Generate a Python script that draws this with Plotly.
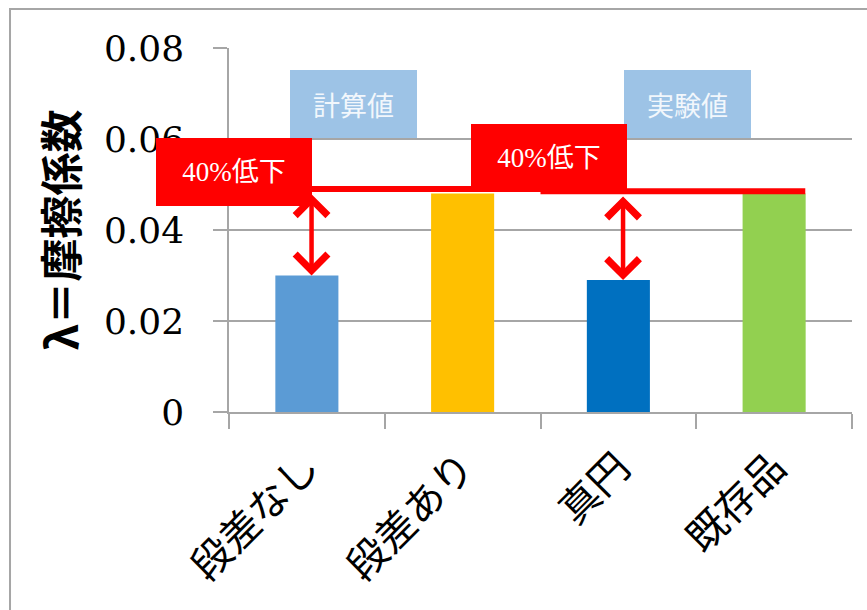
import plotly.graph_objects as go

# 摩擦係数の比較（計算値 / 実験値）
categories = ["段差なし", "段差あり", "真円", "既存品"]
friction = [0.030, 0.048, 0.029, 0.048]
bar_colors = ["#5B9BD5", "#FFC000", "#0070C0", "#92D050"]

# 基準線（段差あり・既存品のレベル）と低下を示す矢印
ref_levels = [0.049, 0.0485]
ref_spans = [(0.03, 1.50), (1.50, 3.20)]
arrow_x = [0.03, 2.03]
arrow_to = [0, 2]        # 低下した棒
drop_label = "40%低下"

group_labels = ["計算値", "実験値"]

y_ticks = [0, 0.02, 0.04, 0.06, 0.08]
y_ticktext = ["0", "0.02", "0.04", "0.06", "0.08"]

GRAY = "#A6A6A6"
RED = "#FF0000"

fig = go.Figure(
    go.Bar(
        x=categories,
        y=friction,
        marker=dict(color=bar_colors, line=dict(width=0)),
        hoverinfo="x+y",
    )
)

shapes = []
# 外枠
shapes.append(dict(type="rect", xref="paper", yref="paper",
                   x0=-0.3515, x1=1.05, y0=-0.7, y1=1.107,
                   line=dict(color=GRAY, width=2), fillcolor="rgba(0,0,0,0)",
                   layer="below"))
# 基準線
for lvl, (x0, x1) in zip(ref_levels, ref_spans):
    shapes.append(dict(type="line", xref="x", yref="y", x0=x0, x1=x1,
                       y0=lvl, y1=lvl, line=dict(color=RED, width=6),
                       layer="above"))

annotations = []
# 計算値 / 実験値 の見出し
for txt, xc in zip(group_labels, [0.2006, 0.736]):
    annotations.append(dict(
        text=txt, xref="paper", yref="paper", x=xc, y=0.845,
        xanchor="center", yanchor="middle",
        showarrow=False, width=127, height=68, bgcolor="#9DC3E6",
        borderpad=0, borderwidth=0,
        font=dict(family="Noto Sans CJK JP", size=27, color="#F2F7FC"),
    ))

# 低下率の赤いラベル
for xc, yc in [(0.0088, 0.659), (0.513, 0.698)]:
    annotations.append(dict(
        text=drop_label, xref="paper", yref="paper", x=xc, y=yc,
        xanchor="center", yanchor="middle",
        showarrow=False, width=156, height=68, bgcolor=RED,
        borderpad=0, borderwidth=0,
        font=dict(family="Liberation Serif, Noto Sans CJK JP", size=27,
                  color="white"),
    ))

# 両矢印（基準線 → 棒の上端）
for xa, lvl, i_to in zip(arrow_x, ref_levels, arrow_to):
    annotations.append(dict(
        x=xa, y=friction[i_to], ax=xa, ay=lvl - 0.0008,
        xref="x", yref="y", axref="x", ayref="y",
        showarrow=True, arrowhead=4, startarrowhead=4,
        arrowside="end+start", arrowsize=1.4, startarrowsize=1.4,
        arrowwidth=4.5, arrowcolor=RED, text="",
    ))

fig.update_layout(
    width=867, height=610,
    margin=dict(l=229, r=15, t=48, b=198),
    paper_bgcolor="white", plot_bgcolor="white",
    bargap=0.595,
    showlegend=False,
    shapes=shapes,
    annotations=annotations,
)

fig.update_yaxes(
    range=[0, 0.08],
    tickvals=y_ticks, ticktext=y_ticktext,
    showgrid=True, gridcolor=GRAY, gridwidth=1.5,
    showline=True, linecolor=GRAY, linewidth=1.5,
    ticks="outside", ticklen=14, tickcolor=GRAY, tickwidth=1.5,
    ticklabelstandoff=22,
    zeroline=False, automargin=False,
    tickfont=dict(family="DejaVu Serif", size=36, color="black"),
    title=dict(text="<b>λ＝摩擦係数</b>", standoff=12,
               font=dict(family="Noto Sans CJK JP", size=43, color="black")),
)

fig.update_xaxes(
    showline=True, linecolor=GRAY, linewidth=1.5,
    ticks="outside", tickson="boundaries", ticklen=15,
    tickcolor=GRAY, tickwidth=1.5,
    tickangle=-45, automargin=False,
    ticklabelstandoff=14,
    tickfont=dict(family="Noto Sans CJK JP", size=40, color="black"),
)

fig.write_html("out.html")
